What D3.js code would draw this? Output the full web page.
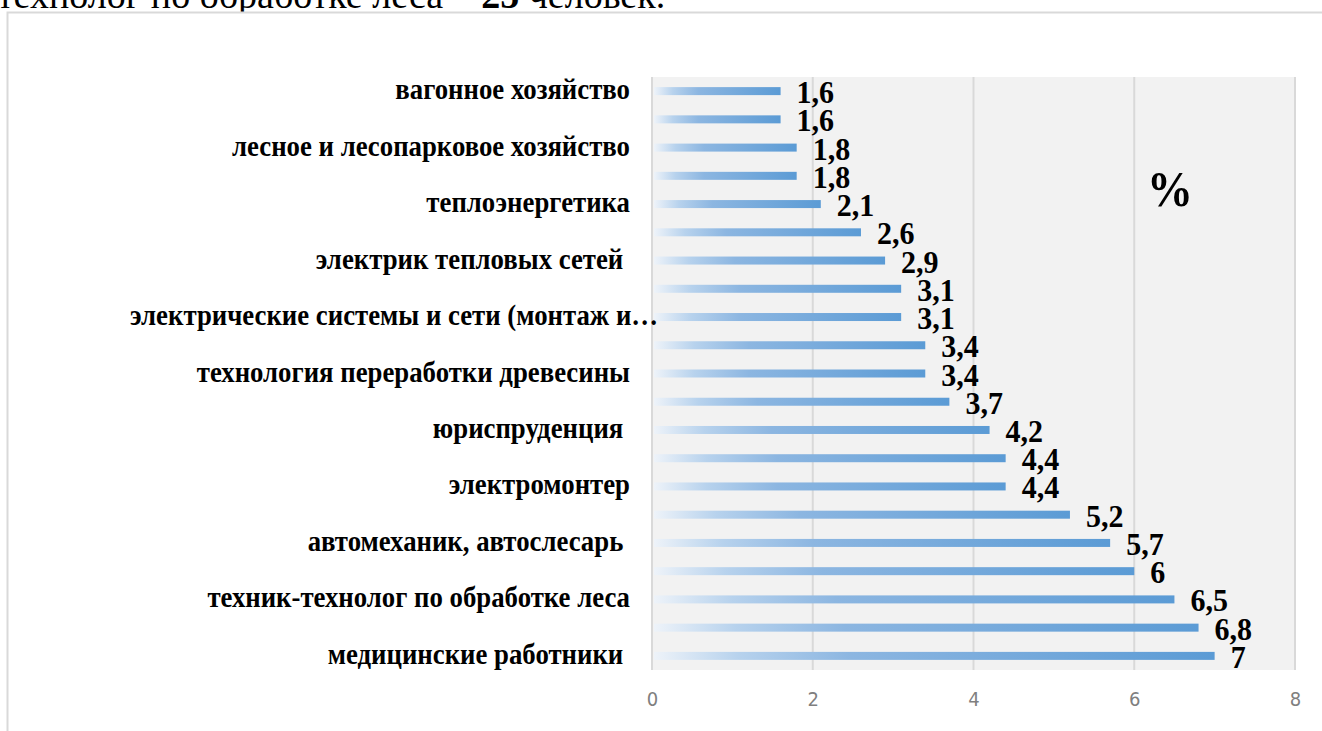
<!DOCTYPE html>
<html>
<head>
<meta charset="utf-8">
<script src="https://cdn.jsdelivr.net/npm/d3@7"></script>
<style>
  body { margin: 0; background: #fff; }
  #svg-container { width: 1322px; height: 731px; }
  .cat-label { font-family: "Liberation Serif", "Times New Roman", serif; font-weight: bold; font-size: 26px; fill: #000; white-space: pre; }
  .value-label { font-family: "Liberation Serif", "Times New Roman", serif; font-weight: bold; font-size: 30px; fill: #000; }
  .x-axis text { font-family: "Liberation Sans Narrow", "DejaVu Sans Condensed", sans-serif; font-size: 20px; fill: #7f7f7f; }
  .x-axis path, .x-axis line { display: none; }
</style>
</head>
<body>
<div id="svg-container"></div>
<script>
////////////////////////////  Data  ////////////////////////////////
// только каждая вторая подпись видна на оригинале
const categories = [
  "вагонное хозяйство", "",
  "лесное и лесопарковое хозяйство", "",
  "теплоэнергетика", "",
  "электрик тепловых сетей ", "",
  "электрические системы и сети (монтаж и…", "",
  "технология переработки древесины", "",
  "юриспруденция ", "",
  "электромонтер", "",
  "автомеханик, автослесарь ", "",
  "техник-технолог по обработке леса", "",
  "медицинские работники "
];
const values = [1.6, 1.6, 1.8, 1.8, 2.1, 2.6, 2.9, 3.1, 3.1, 3.4, 3.4, 3.7, 4.2, 4.4, 4.4, 5.2, 5.7, 6, 6.5, 6.8, 7];
const xTicks = [0, 2, 4, 6, 8];
const unitLabel = "%";
const topLine = "технолог по обработке леса – ";
const topLineBold = "25";
const topLineEnd = " человек.";

////////////////////////////  Init  ////////////////////////////////
const width = 1322;
const height = 731;
const plot = { left: 652, right: 1295, top: 77, bottom: 670 };
const serif = "'Liberation Serif', 'Times New Roman', serif";

const svg = d3.select("#svg-container").append("svg")
  .attr("width", width).attr("height", height);

const data = values.map((v, i) => ({ i, name: categories[i], value: v }));

const xScale = d3.scaleLinear().domain([0, 8]).range([plot.left, plot.right]);
const yScale = d3.scaleBand().domain(data.map((d) => d.i)).range([plot.top, plot.bottom]);
const barH = 8;
const mid = (d) => yScale(d.i) + yScale.bandwidth() / 2;

// gradient like excel fill
const grad = svg.append("defs").append("linearGradient")
  .attr("id", "bar-grad").attr("x1", "0").attr("x2", "1").attr("y1", "0").attr("y2", "0");
grad.append("stop").attr("offset", "0%").attr("stop-color", "#eef3f9");
grad.append("stop").attr("offset", "15%").attr("stop-color", "#b7d2ed");
grad.append("stop").attr("offset", "35%").attr("stop-color", "#8cb6e1");
grad.append("stop").attr("offset", "100%").attr("stop-color", "#5b9bd5");

// text line of the document above the chart (cut off)
const docLine = svg.append("text")
  .attr("x", -3).attr("y", 8)
  .style("font-family", serif)
  .style("font-size", "38px");
docLine.append("tspan").text(topLine);
docLine.append("tspan").style("font-weight", "bold").text(topLineBold);
docLine.append("tspan").text(topLineEnd);

// chart frame
svg.append("rect")
  .attr("x", 7.5).attr("y", 12.5)
  .attr("width", width + 20).attr("height", height + 20)
  .attr("fill", "#fff").attr("stroke", "#d9d9d9").attr("stroke-width", 2);

// plot background
svg.append("rect")
  .attr("x", plot.left).attr("y", plot.top)
  .attr("width", plot.right - plot.left).attr("height", plot.bottom - plot.top)
  .attr("fill", "#f2f2f2");

// gridlines
svg.append("g").selectAll("line")
  .data(xTicks)
  .enter()
  .append("line")
  .attr("x1", (d) => xScale(d)).attr("x2", (d) => xScale(d))
  .attr("y1", plot.top).attr("y2", plot.bottom)
  .attr("stroke", "#d9d9d9").attr("stroke-width", 2);

// x axis
svg.append("g")
  .attr("class", "x-axis")
  .attr("transform", `translate(0, ${plot.bottom})`)
  .call(d3.axisBottom(xScale).tickValues(xTicks).tickSize(0).tickPadding(22));

// bars
svg.selectAll(".bar")
  .data(data)
  .enter()
  .append("rect")
  .attr("class", "bar")
  .attr("x", xScale(0) + 2)
  .attr("y", (d) => mid(d) - barH / 2)
  .attr("width", (d) => xScale(d.value) - xScale(0) - 2)
  .attr("height", barH)
  .attr("fill", "url(#bar-grad)");

// value labels (slightly tall, like the stretched original)
svg.selectAll(".value-label")
  .data(data)
  .enter()
  .append("text")
  .attr("class", "value-label")
  .attr("transform", (d) => `translate(${xScale(d.value) + 16}, ${mid(d) + 12}) scale(1, 1.08)`)
  .text((d) => String(d.value).replace(".", ","));

// category labels
svg.selectAll(".cat-label")
  .data(data.filter((d) => d.name))
  .enter()
  .append("text")
  .attr("class", "cat-label")
  .attr("xml:space", "preserve")
  .attr("text-anchor", (d) => (d.name.endsWith("…") ? "start" : "end"))
  .attr("transform", (d) => {
    const x = d.name.endsWith("…") ? 130 : 630;
    return `translate(${x}, ${mid(d) + 8}) scale(1.03, 1.15)`;
  })
  .text((d) => d.name);

// unit
svg.append("text")
  .attr("transform", "translate(1147, 206) scale(1, 1.1)")
  .style("font-family", serif)
  .style("font-weight", "bold").style("font-size", "46px")
  .text(unitLabel);
</script>
</body>
</html>
